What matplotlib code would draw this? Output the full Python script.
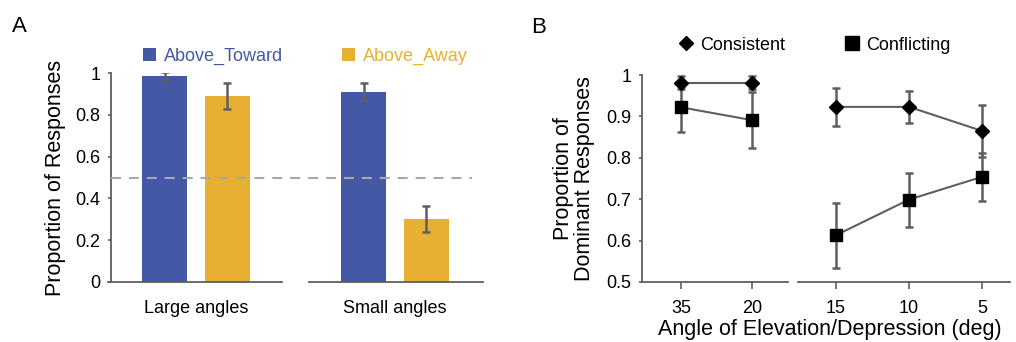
import numpy as np
import matplotlib
matplotlib.use('Agg')
import matplotlib.pyplot as plt

plt.rcParams['font.family'] = ['Liberation Sans', 'DejaVu Sans']

# Panel A data
groups = ['Large angles', 'Small angles']
toward = [0.986, 0.909]
toward_err = [0.018, 0.042]
away = [0.890, 0.301]
away_err = [0.060, 0.063]

# Panel B data
angles_left = ['35', '20']
angles_right = ['15', '10', '5']
consistent = [0.981, 0.981, 0.923, 0.923, 0.865]
consistent_err = [0.016, 0.016, 0.045, 0.039, 0.062]
conflicting = [0.922, 0.891, 0.613, 0.699, 0.754]
conflicting_err = [0.060, 0.068, 0.079, 0.065, 0.058]

blue = '#4459a5'
yellow = '#e8b032'
grey = '#5f5f5f'

W, H = 1016, 342
fig = plt.figure(figsize=(W / 100, H / 100), dpi=100)


def rect(x0, y0, x1, y1):
    # pixel box (top-left origin) -> figure fraction
    return [x0 / W, 1 - y1 / H, (x1 - x0) / W, (y1 - y0) / H]


def style_ax(ax):
    for s in ['top', 'right']:
        ax.spines[s].set_visible(False)
    for s in ['left', 'bottom']:
        ax.spines[s].set_color(grey)
        ax.spines[s].set_linewidth(1.3)
    ax.tick_params(colors=grey, labelcolor='black', labelsize=13,
                   width=1.2, length=2.5, pad=5)


# ---------------- Panel A ----------------
axA = fig.add_axes(rect(111, 73, 483, 282))
style_ax(axA)
x = np.arange(len(groups))
bw, off = 0.226, 0.157
ekw = dict(ecolor=grey, elinewidth=1.8, capsize=2.6, capthick=1.8)
axA.bar(x - off, toward, bw, yerr=toward_err, color=blue, label='Above_Toward',
        error_kw=ekw)
axA.bar(x + off, away, bw, yerr=away_err, color=yellow, label='Above_Away',
        error_kw=ekw)
axA.set_xlim(-0.426, 1.443)
axA.set_ylim(0, 1)
axA.set_yticks([0, 0.2, 0.4, 0.6, 0.8, 1])
axA.set_yticklabels(['0', '0.2', '0.4', '0.6', '0.8', '1'])
axA.set_xticks(x)
axA.set_xticklabels(groups)
axA.tick_params(axis='x', length=0, pad=13)
axA.spines['bottom'].set_visible(False)
axA.axhline(0, xmin=-0.008, xmax=0.46, color=grey, lw=1.3, clip_on=False)
axA.axhline(0, xmin=0.532, xmax=1.0, color=grey, lw=1.3, clip_on=False)
axA.axhline(0.5, xmin=0, xmax=0.97, color='#a8a8a8', lw=1.5,
            ls=(0, (4.8, 3.8)), zorder=3)
axA.set_ylabel('Proportion of Responses', fontsize=15.5, labelpad=7)
axA.legend(loc='lower left', bbox_to_anchor=(0.087, 1.04), ncol=2,
           frameon=False, fontsize=13, labelcolor='linecolor',
           handlelength=0.72, handleheight=0.72, handletextpad=0.4,
           columnspacing=3.3, borderpad=0, borderaxespad=0)
fig.text(12 / W, 1 - 32 / H, 'A', fontsize=16)

# ---------------- Panel B ----------------
axB1 = fig.add_axes(rect(642, 75, 788, 282))
axB2 = fig.add_axes(rect(798, 75, 1010, 282))
style_ax(axB1)
style_ax(axB2)
axB2.spines['left'].set_visible(False)
axB2.tick_params(axis='y', left=False, labelleft=False)

nl = len(angles_left)
xl = np.arange(nl)
xr = np.arange(len(angles_right))
mk_c = dict(marker='D', ms=7, mfc='black', mec='black')
mk_f = dict(marker='s', ms=9.3, mfc='black', mec='black')
ebkw = dict(color=grey, lw=1.5, ecolor=grey, elinewidth=1.8, capsize=2.6,
            capthick=1.8)
for ax, xs, sl in [(axB1, xl, slice(0, nl)), (axB2, xr, slice(nl, None))]:
    ax.errorbar(xs, conflicting[sl], yerr=conflicting_err[sl], **ebkw, **mk_f,
                clip_on=False, zorder=3)
    ax.errorbar(xs, consistent[sl], yerr=consistent_err[sl], **ebkw, **mk_c,
                clip_on=False, zorder=4)
    ax.set_ylim(0.5, 1)
    ax.tick_params(axis='x', length=5, pad=8)

axB1.set_xlim(-0.549, 1.507)
axB2.set_xlim(-0.52, 2.384)
axB1.set_xticks(xl)
axB1.set_xticklabels(angles_left)
axB2.set_xticks(xr)
axB2.set_xticklabels(angles_right)
axB1.set_yticks([0.5, 0.6, 0.7, 0.8, 0.9, 1])
axB1.set_yticklabels(['0.5', '0.6', '0.7', '0.8', '0.9', '1'])
axB1.set_ylabel('Proportion of\nDominant Responses', fontsize=15.5,
                linespacing=1.05, labelpad=8)
fig.text(830 / W, 1 - 330 / H, 'Angle of Elevation/Depression (deg)',
         fontsize=15.5, ha='center', va='center')

hc = plt.Line2D([], [], ls='none', marker='D', ms=7.5, color='black')
hf = plt.Line2D([], [], ls='none', marker='s', ms=9.5, color='black')
fig.legend([hc, hf], ['Consistent', 'Conflicting'], loc='center left',
           bbox_to_anchor=(678 / W, 1 - 45 / H), ncol=2, frameon=False,
           fontsize=13, handlelength=0.9, handletextpad=0.3,
           columnspacing=3.3, borderpad=0, borderaxespad=0)
fig.text(531 / W, 1 - 33 / H, 'B', fontsize=16)

fig.savefig('out.png', dpi=100)
